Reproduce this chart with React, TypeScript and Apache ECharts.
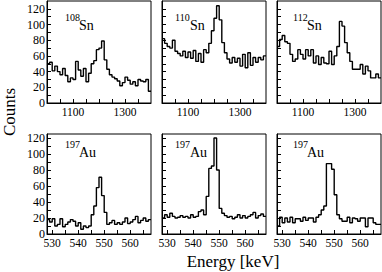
import React, { useEffect, useRef } from "react";
import * as echarts from "echarts";

// ---- data ----
const snStart = 1000;
const snBinWidth = 10;
const auStart = 528;
const auBinWidth = 1;

const sn108 = [50, 52, 41, 47, 40, 36, 44, 35, 27, 32, 30, 53, 42, 34, 44, 27, 38, 50, 54, 68, 70, 79, 55, 43, 36, 33, 31, 28, 22, 26, 33, 29, 24, 27, 22, 30, 28, 27, 30, 15];
const sn110 = [82, 76, 72, 70, 80, 66, 63, 60, 66, 58, 65, 57, 67, 53, 63, 52, 68, 64, 76, 92, 108, 124, 106, 77, 64, 56, 51, 58, 52, 57, 47, 62, 45, 64, 48, 58, 52, 58, 55, 60];
const sn112 = [72, 81, 86, 78, 76, 62, 53, 56, 68, 62, 56, 68, 60, 68, 51, 60, 49, 58, 51, 50, 66, 49, 60, 72, 104, 98, 77, 64, 53, 43, 43, 43, 49, 37, 47, 41, 32, 32, 37, 32];
const au1 = [18, 15, 19, 10, 12, 19, 9, 12, 15, 18, 16, 10, 14, 6, 10, 8, 10, 24, 35, 58, 71, 48, 27, 12, 14, 17, 12, 14, 12, 15, 20, 13, 15, 18, 22, 14, 17, 20, 16, 18];
const au2 = [20, 24, 21, 26, 22, 20, 21, 23, 21, 22, 20, 24, 21, 22, 28, 30, 24, 47, 82, 85, 120, 80, 32, 26, 23, 21, 22, 19, 21, 24, 20, 23, 20, 22, 24, 27, 20, 23, 25, 22];
const au3 = [10, 21, 14, 20, 15, 21, 14, 19, 19, 16, 21, 17, 20, 20, 15, 21, 24, 30, 35, 88, 88, 81, 49, 24, 19, 16, 16, 21, 14, 20, 19, 16, 20, 20, 9, 20, 20, 14, 12, 12];

const snXTicks = [1050, 1100, 1150, 1200, 1250, 1300, 1350];
const snXLabels = [1100, 1300];
const auXTicks = [530, 535, 540, 545, 550, 555, 560, 565];
const auXLabels = [530, 540, 550, 560];
const yTicks = [10, 20, 30, 40, 50, 60, 70, 80, 90, 100, 110, 120];
const yLabels = [0, 20, 40, 60, 80, 100, 120];

const sups = ["108", "110", "112", "197", "197", "197"];
const symbols = ["Sn", "Sn", "Sn", "Au", "Au", "Au"];

const SERIF = "'Liberation Serif', 'DejaVu Serif', serif";

const colLeft = [47, 162, 277];
const colWidth = 104;
const rowTop = [1, 134];
const rowHeight = [102, 100];

function toSteps(values: number[], start: number, w: number) {
  const pts = values.map((v, i) => [start + i * w, v]);
  pts.push([start + values.length * w, values[values.length - 1]]);
  return pts;
}

export default function App() {
  const ref = useRef<HTMLDivElement>(null);
  useEffect(() => {
    if (!ref.current) return;
    const chart = echarts.init(ref.current, undefined, { renderer: "svg" });
    const panels = [
      { v: sn108, s: snStart, w: snBinWidth, row: 0, col: 0 },
      { v: sn110, s: snStart, w: snBinWidth, row: 0, col: 1 },
      { v: sn112, s: snStart, w: snBinWidth, row: 0, col: 2 },
      { v: au1, s: auStart, w: auBinWidth, row: 1, col: 0 },
      { v: au2, s: auStart, w: auBinWidth, row: 1, col: 1 },
      { v: au3, s: auStart, w: auBinWidth, row: 1, col: 2 },
    ];
    const grid: any[] = [];
    const xAxis: any[] = [];
    const yAxis: any[] = [];
    const series: any[] = [];
    const graphic: any[] = [];
    panels.forEach((p, i) => {
      const isSn = p.row === 0;
      grid.push({
        left: colLeft[p.col],
        top: rowTop[p.row],
        width: colWidth,
        height: rowHeight[p.row],
        show: true,
        borderColor: "#000",
        borderWidth: 1,
      });
      xAxis.push({
        type: "value",
        gridIndex: i,
        min: isSn ? 1000 : 528,
        max: isSn ? 1400 : 568,
        axisLine: { show: true, lineStyle: { color: "#000", width: 1 } },
        axisTick: {
          show: true,
          inside: true,
          length: 4,
          customValues: isSn ? snXTicks : auXTicks,
          lineStyle: { color: "#000", width: 1 },
        },
        axisLabel: {
          show: true,
          customValues: isSn ? snXLabels : auXLabels,
          formatter: (v: number) => String(v),
          color: "#000",
          fontSize: 11.5,
          fontFamily: SERIF,
          margin: 3,
        },
        splitLine: { show: false },
      });
      yAxis.push({
        type: "value",
        gridIndex: i,
        min: 0,
        max: isSn ? 130 : 125,
        axisLine: { show: true, lineStyle: { color: "#000", width: 1 } },
        axisTick: {
          show: true,
          inside: true,
          length: 4,
          customValues: yTicks,
          lineStyle: { color: "#000", width: 1 },
        },
        axisLabel: {
          show: p.col === 0,
          customValues: yLabels,
          formatter: (v: number) => String(v),
          color: "#000",
          fontSize: 12,
          fontFamily: SERIF,
          margin: 2,
        },
        splitLine: { show: false },
      });
      series.push({
        type: "line",
        xAxisIndex: i,
        yAxisIndex: i,
        step: "end",
        symbol: "none",
        data: toSteps(p.v, p.s, p.w),
        lineStyle: { color: "#000", width: 1.4 },
      });
      const supX = [65, 175, 293][p.col];
      const symX = [79, 190, 307][p.col];
      const baseY = p.row === 0 ? 2 : 129;
      graphic.push({
        type: "text",
        style: {
          text: sups[i],
          x: supX,
          y: baseY + 15,
          fontSize: 10,
          fontFamily: SERIF,
          fill: "#000",
          align: "left",
          verticalAlign: "middle",
        },
      });
      graphic.push({
        type: "text",
        style: {
          text: symbols[i],
          x: symX,
          y: baseY + 23,
          fontSize: 14,
          fontFamily: SERIF,
          fill: "#000",
          align: "left",
          verticalAlign: "middle",
        },
      });
    });
    graphic.push({
      type: "text",
      x: 9,
      y: 112,
      rotation: Math.PI / 2,
      style: {
        text: "Counts",
        fontSize: 17,
        fontFamily: SERIF,
        fill: "#000",
        align: "center",
        verticalAlign: "middle",
      },
    });
    graphic.push({
      type: "text",
      x: 233,
      y: 261,
      style: {
        text: "Energy [keV]",
        fontSize: 17,
        fontFamily: SERIF,
        fill: "#000",
        align: "center",
        verticalAlign: "middle",
      },
    });
    chart.setOption({
      animation: false,
      backgroundColor: "#fff",
      textStyle: { fontFamily: SERIF },
      grid,
      xAxis,
      yAxis,
      series,
      graphic,
    });
    return () => chart.dispose();
  }, []);
  return (
    <div
      ref={ref}
      style={{ position: "fixed", left: 0, top: 0, width: 382, height: 272 }}
    />
  );
}
